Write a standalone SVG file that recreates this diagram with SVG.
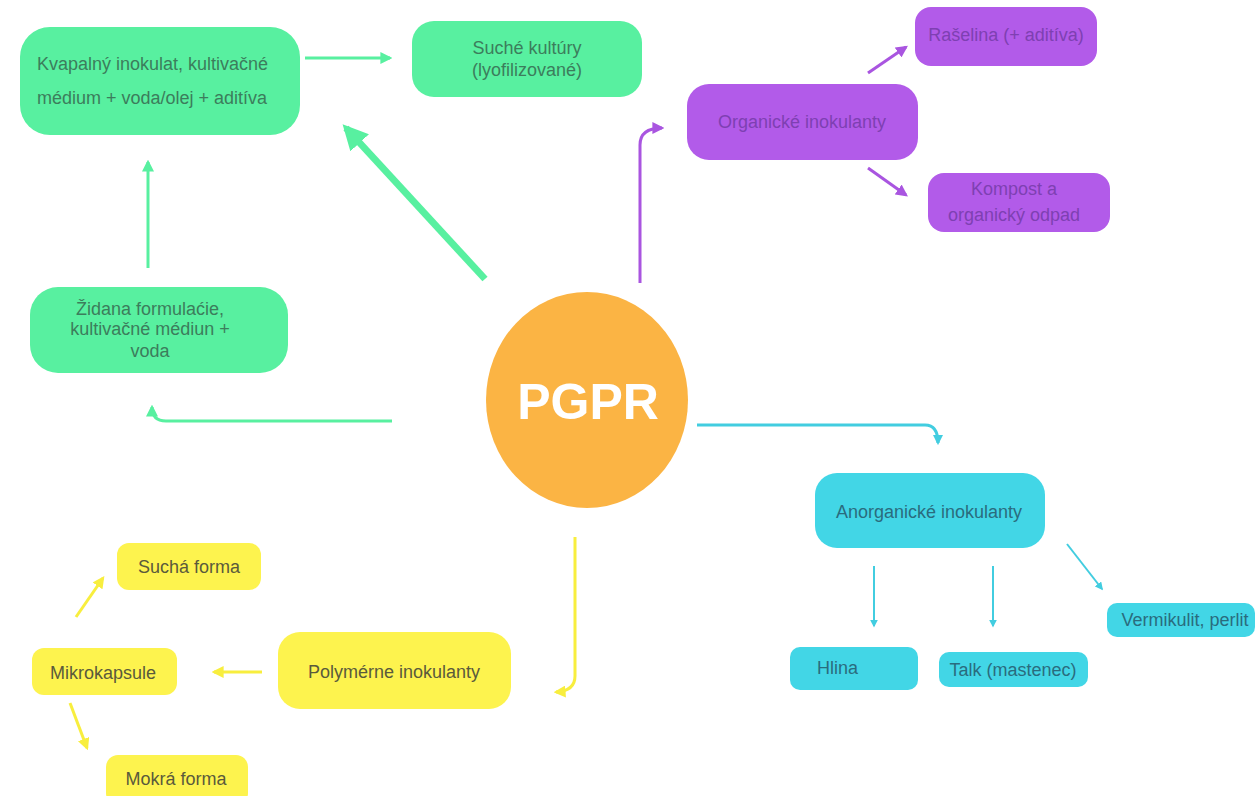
<svg xmlns="http://www.w3.org/2000/svg" width="1259" height="796" viewBox="0 0 1259 796">
<defs>
<style>
text{font-family:"Liberation Sans",Arial,sans-serif;font-size:18px}
.g{fill:#58F0A0}.gt{fill:#3C7D5C}
.p{fill:#B25BE9}.pt{fill:#7E40B2}
.c{fill:#42D6E6}.ct{fill:#2A6C7E}
.y{fill:#FDF34E}.yt{fill:#5A5A3C}
.lg{stroke:#58F0A0;fill:none}
.lp{stroke:#A955E0;fill:none;stroke-width:3}
.lc{stroke:#42CDE0;fill:none}
.ly{stroke:#F8EE3E;fill:none;stroke-width:3}
.m{text-anchor:middle}
</style>
<marker id="ag" viewBox="0 0 10 10" refX="8" refY="5" markerWidth="4" markerHeight="4" orient="auto"><path d="M0,0 L10,5 L0,10 z" fill="#58F0A0"/></marker>
<marker id="agb" viewBox="0 0 10 10" refX="8" refY="5" markerWidth="3.6" markerHeight="3.6" orient="auto"><path d="M0,0 L10,5 L0,10 z" fill="#58F0A0"/></marker>
<marker id="ap" viewBox="0 0 10 10" refX="8" refY="5" markerWidth="4" markerHeight="4" orient="auto"><path d="M0,0 L10,5 L0,10 z" fill="#A955E0"/></marker>
<marker id="ac" viewBox="0 0 10 10" refX="8" refY="5" markerWidth="4" markerHeight="4" orient="auto"><path d="M0,0 L10,5 L0,10 z" fill="#42CDE0"/></marker>
<marker id="ac2" viewBox="0 0 10 10" refX="8" refY="5" markerWidth="3.5" markerHeight="3.5" orient="auto"><path d="M0,0 L10,5 L0,10 z" fill="#42CDE0"/></marker>
<marker id="ay" viewBox="0 0 10 10" refX="8" refY="5" markerWidth="4" markerHeight="4" orient="auto"><path d="M0,0 L10,5 L0,10 z" fill="#F8EE3E"/></marker>
</defs>
<rect width="1259" height="796" fill="#FFFFFF"/>

<g id="connectors">
<path class="lg" stroke-width="3" d="M305,58 H390" marker-end="url(#ag)"/>
<path class="lg" stroke-width="7" d="M485,279 L346,128" marker-end="url(#agb)"/>
<path class="lg" stroke-width="3" d="M148,268 V162" marker-end="url(#ag)"/>
<path class="lg" stroke-width="3" d="M392,421 H166 Q152,421 152,407" marker-end="url(#ag)"/>
<path class="lp" d="M640,283 V145 Q640,128 662,128" marker-end="url(#ap)"/>
<path class="lp" d="M868,73 L906,47" marker-end="url(#ap)"/>
<path class="lp" d="M868,168 L906,195" marker-end="url(#ap)"/>
<path class="lc" stroke-width="3" d="M697,425 H925 Q938,425 938,443" marker-end="url(#ac2)"/>
<path class="lc" stroke-width="2" d="M874,566 V626" marker-end="url(#ac)"/>
<path class="lc" stroke-width="2" d="M993,566 V626" marker-end="url(#ac)"/>
<path class="lc" stroke-width="2" d="M1067,544 L1102,589" marker-end="url(#ac)"/>
<path class="ly" d="M575,537 V676 Q575,691 556,692" marker-end="url(#ay)"/>
<path class="ly" d="M262,672 H214" marker-end="url(#ay)"/>
<path class="ly" d="M76,617 L103,578" marker-end="url(#ay)"/>
<path class="ly" d="M70,703 L87,748" marker-end="url(#ay)"/>
</g>

<g id="pgpr">
<ellipse cx="587" cy="400" rx="101" ry="108" fill="#FBB444"/>
<text x="588" y="419" class="m" style="font-size:50px;font-weight:bold;fill:#FFFFFF">PGPR</text>
</g>

<g id="kvapalny">
<rect x="20" y="27" width="280" height="108" rx="30" class="g"/>
<text x="37" y="70" class="gt">Kvapalný inokulat, kultivačné</text>
<text x="37" y="104" class="gt">médium + voda/olej + aditíva</text>
</g>

<g id="suche">
<rect x="412" y="21" width="230" height="76" rx="22" class="g"/>
<text x="527" y="54" class="gt m">Suché kultúry</text>
<text x="527" y="76" class="gt m">(lyofilizované)</text>
</g>

<g id="zidana">
<rect x="30" y="287" width="258" height="86" rx="28" class="g"/>
<text x="150" y="315" class="gt m">Židana formulaćie,</text>
<text x="150" y="335" class="gt m">kultivačné médiun +</text>
<text x="150" y="357" class="gt m">voda</text>
</g>

<g id="organicke">
<rect x="687" y="84" width="231" height="76" rx="22" class="p"/>
<text x="802" y="128" class="pt m">Organické inokulanty</text>
</g>

<g id="raselina">
<rect x="915" y="7" width="182" height="59" rx="16" class="p"/>
<text x="1006" y="41" class="pt m">Rašelina (+ aditíva)</text>
</g>

<g id="kompost">
<rect x="928" y="173" width="182" height="59" rx="16" class="p"/>
<text x="1014" y="195" class="pt m">Kompost a</text>
<text x="1014" y="221" class="pt m">organický odpad</text>
</g>

<g id="anorganicke">
<rect x="815" y="473" width="230" height="75" rx="22" class="c"/>
<text x="929" y="518" class="ct m">Anorganické inokulanty</text>
</g>

<g id="hlina">
<rect x="790" y="647" width="128" height="43" rx="10" class="c"/>
<text x="817" y="674" class="ct">Hlina</text>
</g>

<g id="talk">
<rect x="939" y="652" width="149" height="35" rx="10" class="c"/>
<text x="1013" y="676" class="ct m">Talk (mastenec)</text>
</g>

<g id="vermikulit">
<rect x="1107" y="603" width="148" height="34" rx="10" class="c"/>
<text x="1185" y="626" class="ct m">Vermikulit, perlit</text>
</g>

<g id="polymerne">
<rect x="278" y="632" width="233" height="77" rx="22" class="y"/>
<text x="394" y="678" class="yt m">Polymérne inokulanty</text>
</g>

<g id="mikrokapsule">
<rect x="32" y="648" width="145" height="47" rx="12" class="y"/>
<text x="103" y="679" class="yt m">Mikrokapsule</text>
</g>

<g id="sucha">
<rect x="117" y="543" width="144" height="47" rx="12" class="y"/>
<text x="189" y="573" class="yt m">Suchá forma</text>
</g>

<g id="mokra">
<rect x="106" y="755" width="142" height="50" rx="12" class="y"/>
<text x="176" y="785" class="yt m">Mokrá forma</text>
</g>
</svg>
